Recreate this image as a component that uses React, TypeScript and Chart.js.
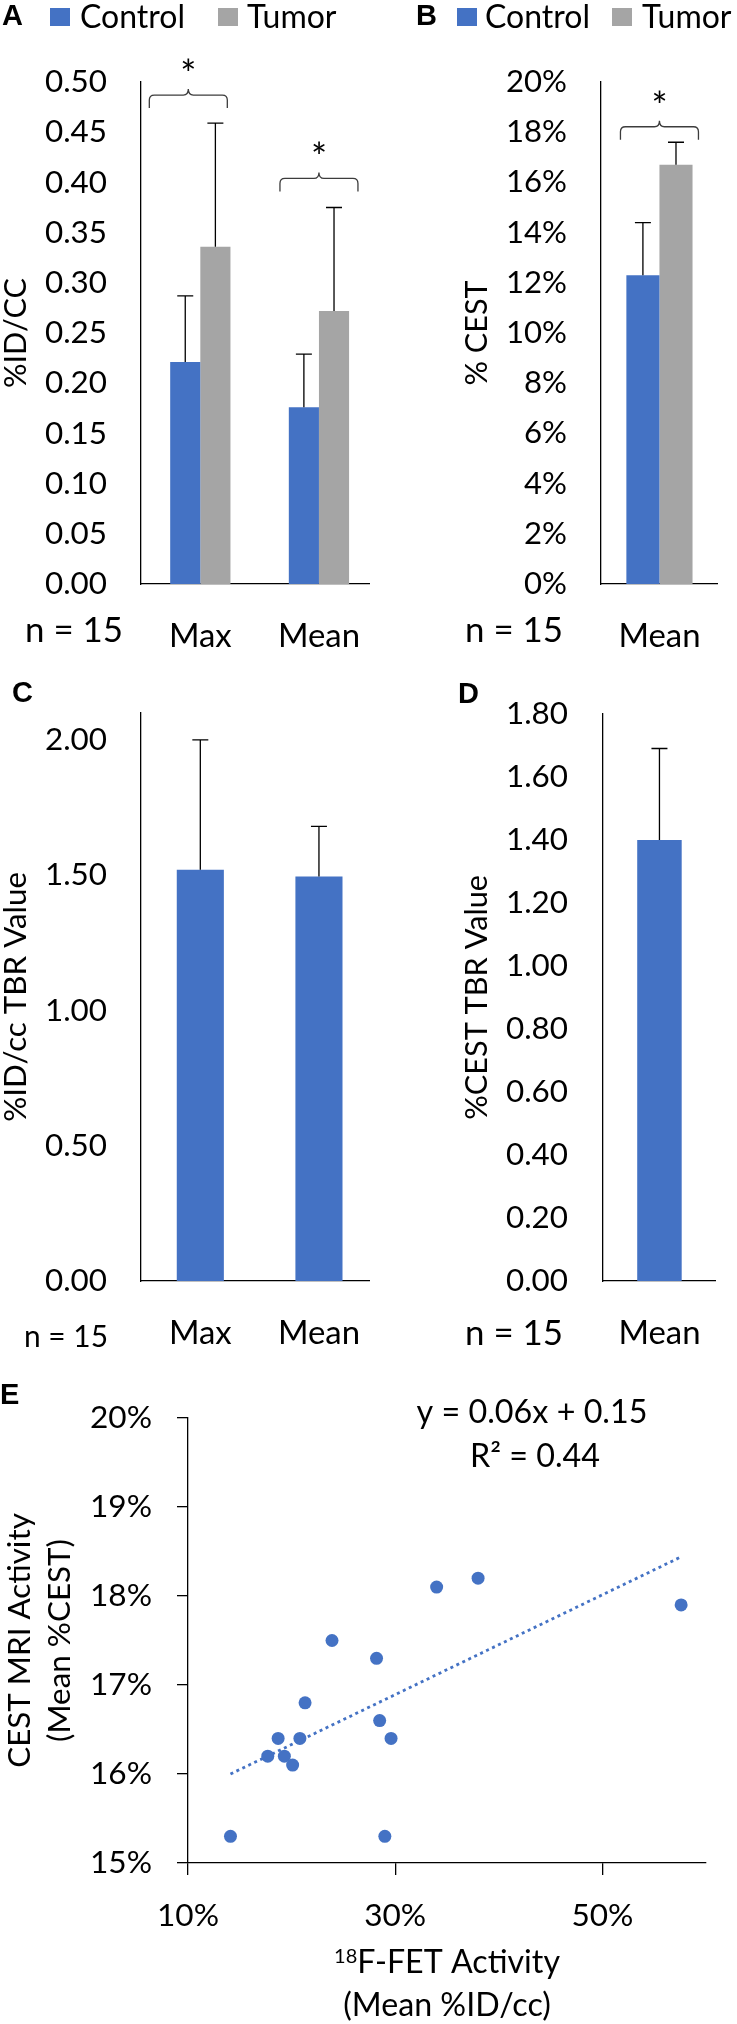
import React, { useEffect, useRef } from 'react';
import { Chart, registerables } from 'chart.js';

Chart.register(...registerables);

const FONT = 'Lato, "Open Sans", sans-serif';
const BOLD = '"Liberation Sans", Arial, sans-serif';
const BLUE = '#4472C4';
const GRAY = '#A5A5A5';
const INK = '#000000';
const BRACE = '#3c3c3c';

const seriesNames = ['Control', 'Tumor'];
const sampleLabel = 'n = 15';

// Panel A: %ID/cc
const categoriesA = ['Max', 'Mean'];
const controlA = [0.221, 0.176];
const controlErrA = [0.066, 0.053];
const tumorA = [0.336, 0.272];
const tumorErrA = [0.123, 0.103];
const yTicksA = [0, 0.05, 0.1, 0.15, 0.2, 0.25, 0.3, 0.35, 0.4, 0.45, 0.5];
const sigA = [
  { index: 0, value: 0.474 },
  { index: 1, value: 0.391 },
];

// Panel B: % CEST
const categoriesB = ['Mean'];
const controlB = [12.3];
const controlErrB = [2.1];
const tumorB = [16.7];
const tumorErrB = [0.9];
const yTicksB = [0, 2, 4, 6, 8, 10, 12, 14, 16, 18, 20];
const sigB = [{ index: 0, value: 17.7 }];

// Panel C: %ID/cc TBR
const categoriesC = ['Max', 'Mean'];
const tbrPet = [1.52, 1.495];
const tbrPetErr = [0.48, 0.185];
const yTicksC = [0, 0.5, 1, 1.5, 2];

// Panel D: %CEST TBR
const categoriesD = ['Mean'];
const tbrCest = [1.4];
const tbrCestErr = [0.29];
const yTicksD = [0, 0.2, 0.4, 0.6, 0.8, 1, 1.2, 1.4, 1.6, 1.8];

// Panel E: scatter (percent units)
const fetActivity = [23.9, 28.2, 34.0, 38.0, 57.6, 21.3, 28.5, 29.6, 18.7, 20.8, 17.7, 19.3, 20.1, 14.1, 29.0];
const cestActivity = [17.5, 17.3, 18.1, 18.2, 17.9, 16.8, 16.6, 16.4, 16.4, 16.4, 16.2, 16.2, 16.1, 15.3, 15.3];
const trendX = [14.1, 57.6];
const trendY = [16.0, 18.44];
const xTicksE = [10, 30, 50];
const yTicksE = [15, 16, 17, 18, 19, 20];
const equationLines = ['y = 0.06x + 0.15', 'R² = 0.44'];

const fmt2 = (v: number) => v.toFixed(2);
const fmtPct = (v: number) => `${Math.round(v)}%`;

// font size that makes `text` take `target` px in FONT
let measureCtx: CanvasRenderingContext2D | null = null;
function fit(text: string, target: number): number {
  if (!measureCtx) measureCtx = document.createElement('canvas').getContext('2d');
  const m = measureCtx!;
  m.font = `100px ${FONT}`;
  const w = m.measureText(text).width || 1;
  return Math.round((100 * target * 10) / w) / 10;
}

type Series = { label: string; data: number[]; err: number[]; color: string };
type BarSpec = {
  width: number;
  height: number;
  area: { left: number; top: number; right: number; bottom: number };
  labels: string[];
  series: Series[];
  yMax: number;
  yTicks: number[];
  fmt: (v: number) => string;
  catPct: number;
  tickPad: number;
  tickSize: number;
  xSize: number;
  xPad: number;
  yTitle: string;
  yTitleSize: number;
  yTitleCenter: number;
  letter: { text: string; x: number; y: number };
  nText: { x: number; y: number; size: number };
  legend?: { squares: number[]; texts: number[]; y: number; size: number };
  brackets?: { index: number; value: number }[];
  bracketDx?: number[];
};

function drawLetter(ctx: CanvasRenderingContext2D, l: { text: string; x: number; y: number }) {
  ctx.save();
  ctx.font = `bold 29px ${BOLD}`;
  ctx.fillStyle = INK;
  ctx.textAlign = 'left';
  ctx.textBaseline = 'alphabetic';
  ctx.fillText(l.text, l.x, l.y);
  ctx.restore();
}

function barDecor(spec: BarSpec) {
  return {
    id: 'decor',
    afterDatasetsDraw(chart: any) {
      const ctx: CanvasRenderingContext2D = chart.ctx;
      const ys = chart.scales.y;
      ctx.save();
      ctx.strokeStyle = INK;
      ctx.lineWidth = 1.3;
      spec.series.forEach((s, di) => {
        const meta = chart.getDatasetMeta(di);
        meta.data.forEach((bar: any, i: number) => {
          const top = ys.getPixelForValue(s.data[i] + s.err[i]);
          ctx.beginPath();
          ctx.moveTo(bar.x, bar.y);
          ctx.lineTo(bar.x, top);
          ctx.moveTo(bar.x - 8, top);
          ctx.lineTo(bar.x + 8, top);
          ctx.stroke();
        });
      });
      ctx.restore();
    },
    afterDraw(chart: any) {
      const ctx: CanvasRenderingContext2D = chart.ctx;
      const xs = chart.scales.x;
      const ys = chart.scales.y;
      ctx.save();
      (spec.brackets || []).forEach((b, k) => {
        const cx = xs.getPixelForValue(b.index) + ((spec.bracketDx && spec.bracketDx[k]) || 0);
        const yb = ys.getPixelForValue(b.value);
        const half = 39;
        const rise = 13;
        const tip = 6;
        const r = 5;
        const yh = yb - rise;
        ctx.strokeStyle = BRACE;
        ctx.lineWidth = 1.3;
        ctx.beginPath();
        ctx.moveTo(cx - half, yb);
        ctx.lineTo(cx - half, yh + r);
        ctx.quadraticCurveTo(cx - half, yh, cx - half + r, yh);
        ctx.lineTo(cx - r, yh);
        ctx.quadraticCurveTo(cx, yh, cx, yh - tip);
        ctx.quadraticCurveTo(cx, yh, cx + r, yh);
        ctx.lineTo(cx + half - r, yh);
        ctx.quadraticCurveTo(cx + half, yh, cx + half, yh + r);
        ctx.lineTo(cx + half, yb);
        ctx.stroke();
        ctx.fillStyle = INK;
        ctx.font = `38px ${FONT}`;
        ctx.textAlign = 'center';
        ctx.textBaseline = 'alphabetic';
        ctx.fillText('*', cx, yh - tip - 22 + 21);
      });
      if (spec.legend) {
        const lg = spec.legend;
        spec.series.forEach((s, i) => {
          ctx.fillStyle = s.color;
          ctx.fillRect(lg.squares[i], lg.y, 20, 18);
          ctx.fillStyle = INK;
          ctx.font = `${lg.size}px ${FONT}`;
          ctx.textAlign = 'left';
          ctx.textBaseline = 'alphabetic';
          ctx.fillText(s.label, lg.texts[i], lg.y + 20);
        });
      }
      ctx.fillStyle = INK;
      ctx.font = `${spec.nText.size}px ${FONT}`;
      ctx.textAlign = 'center';
      ctx.textBaseline = 'alphabetic';
      ctx.fillText(sampleLabel, spec.nText.x, spec.nText.y);
      ctx.restore();
      drawLetter(ctx, spec.letter);
    },
  };
}

function makeBarChart(canvas: HTMLCanvasElement, spec: BarSpec) {
  const { width, height, area } = spec;
  canvas.width = width;
  canvas.height = height;
  const border = { display: true, color: INK, width: 1.3 };
  return new Chart(canvas, {
    type: 'bar',
    data: {
      labels: spec.labels,
      datasets: spec.series.map((s) => ({
        label: s.label,
        data: s.data,
        backgroundColor: s.color,
        borderWidth: 0,
        categoryPercentage: spec.catPct,
        barPercentage: 1,
      })),
    },
    options: {
      animation: false,
      responsive: false,
      maintainAspectRatio: false,
      events: [],
      layout: { padding: { left: 0, top: area.top, right: width - area.right, bottom: 0 } },
      plugins: { legend: { display: false }, tooltip: { enabled: false } },
      scales: {
        x: {
          grid: { display: false, drawTicks: false },
          border,
          ticks: {
            font: { family: FONT, size: spec.xSize },
            color: INK,
            padding: spec.xPad,
            maxRotation: 0,
            autoSkip: false,
          },
          afterFit: (s: any) => {
            s.height = height - area.bottom;
          },
        },
        y: {
          min: 0,
          max: spec.yMax,
          grid: { display: false, drawTicks: false },
          border,
          afterBuildTicks: (s: any) => {
            s.ticks = spec.yTicks.map((v) => ({ value: v }));
          },
          ticks: {
            font: { family: FONT, size: spec.tickSize },
            color: INK,
            padding: spec.tickPad,
            callback: (v: any) => spec.fmt(Number(v)),
          },
          title: {
            display: true,
            text: spec.yTitle,
            color: INK,
            font: { family: FONT, size: spec.yTitleSize, lineHeight: 1 },
            padding: { top: spec.yTitleCenter - spec.yTitleSize / 2, bottom: 0 },
          },
          afterFit: (s: any) => {
            s.width = area.left;
          },
        },
      },
    } as any,
    plugins: [barDecor(spec) as any],
  });
}

function makeScatter(canvas: HTMLCanvasElement) {
  const width = 737;
  const height = 664;
  const area = { left: 188, top: 58, right: 706, bottom: 503 };
  canvas.width = width;
  canvas.height = height;
  const border = { display: true, color: INK, width: 1.3 };
  const tickSize = fit('20%', 62);
  const eqSize = fit(equationLines[0], 231);
  const titleSize = fit('CEST MRI Activity', 255);
  const xMain = 'F-FET Activity';
  const xSup = '18';
  const xMainSize = fit(xMain, 203);
  const xSupSize = Math.round(xMainSize * 0.62);
  const xLine2 = '(Mean %ID/cc)';
  const decor = {
    id: 'decorE',
    afterDraw(chart: any) {
      const ctx: CanvasRenderingContext2D = chart.ctx;
      ctx.save();
      ctx.fillStyle = INK;
      ctx.textBaseline = 'alphabetic';
      ctx.textAlign = 'center';
      ctx.font = `${eqSize}px ${FONT}`;
      ctx.fillText(equationLines[0], 532, 63);
      ctx.fillText(equationLines[1], 535, 107);
      const cx = (chart.chartArea.left + chart.chartArea.right) / 2;
      ctx.font = `${xSupSize}px ${FONT}`;
      const wSup = ctx.measureText(xSup).width;
      ctx.font = `${xMainSize}px ${FONT}`;
      const wMain = ctx.measureText(xMain).width;
      const start = cx - (wSup + wMain) / 2;
      ctx.textAlign = 'left';
      ctx.font = `${xSupSize}px ${FONT}`;
      ctx.fillText(xSup, start, 603);
      ctx.font = `${xMainSize}px ${FONT}`;
      ctx.fillText(xMain, start + wSup, 613);
      ctx.textAlign = 'center';
      ctx.fillText(xLine2, cx, 656);
      ctx.restore();
      drawLetter(ctx, { text: 'E', x: 0, y: 44 });
    },
  };
  return new Chart(canvas, {
    type: 'scatter',
    data: {
      datasets: [
        {
          type: 'scatter',
          label: 'patients',
          data: fetActivity.map((x, i) => ({ x, y: cestActivity[i] })),
          backgroundColor: BLUE,
          borderColor: BLUE,
          pointRadius: 6.5,
          borderWidth: 0,
          order: 1,
        },
        {
          type: 'line',
          label: 'trend',
          data: trendX.map((x, i) => ({ x, y: trendY[i] })),
          borderColor: BLUE,
          borderWidth: 2.8,
          borderDash: [3, 3.6],
          pointRadius: 0,
          fill: false,
          order: 2,
        },
      ],
    },
    options: {
      animation: false,
      responsive: false,
      maintainAspectRatio: false,
      events: [],
      layout: { padding: { left: 0, top: area.top, right: width - area.right, bottom: 0 } },
      plugins: { legend: { display: false }, tooltip: { enabled: false } },
      scales: {
        x: {
          type: 'linear',
          min: 10,
          max: 60,
          grid: { drawOnChartArea: false, drawTicks: true, tickLength: 12, color: INK, lineWidth: 1.3 },
          border,
          afterBuildTicks: (s: any) => {
            s.ticks = xTicksE.map((v) => ({ value: v }));
          },
          ticks: {
            font: { family: FONT, size: tickSize },
            color: INK,
            padding: 22,
            maxRotation: 0,
            callback: (v: any) => fmtPct(Number(v)),
          },
          afterFit: (s: any) => {
            s.height = height - area.bottom;
          },
        },
        y: {
          type: 'linear',
          min: 15,
          max: 20,
          grid: { drawOnChartArea: false, drawTicks: true, tickLength: 11, color: INK, lineWidth: 1.3 },
          border,
          afterBuildTicks: (s: any) => {
            s.ticks = yTicksE.map((v) => ({ value: v }));
          },
          ticks: {
            font: { family: FONT, size: tickSize },
            color: INK,
            padding: 25,
            callback: (v: any) => fmtPct(Number(v)),
          },
          title: {
            display: true,
            text: ['CEST MRI Activity', '(Mean %CEST)'],
            color: INK,
            font: { family: FONT, size: titleSize, lineHeight: 40 / titleSize },
            padding: { top: 20 - 20, bottom: 0 },
          },
          afterFit: (s: any) => {
            s.width = area.left;
          },
        },
      },
    } as any,
    plugins: [decor as any],
  });
}

export default function App() {
  const aRef = useRef<HTMLCanvasElement>(null);
  const bRef = useRef<HTMLCanvasElement>(null);
  const cRef = useRef<HTMLCanvasElement>(null);
  const dRef = useRef<HTMLCanvasElement>(null);
  const eRef = useRef<HTMLCanvasElement>(null);

  useEffect(() => {
    let cancelled = false;
    const charts: Chart[] = [];
    const build = () => {
      if (cancelled) return;
      const tickNum = fit('0.50', 62);
      const tickPct = fit('20%', 61);
      const xLab = fit('Mean', 82);
      const legendSize = fit('Control', 105);
      const nWide = fit(sampleLabel, 98);
      const nNarrow = fit(sampleLabel, 84);
      charts.push(
        makeBarChart(aRef.current!, {
          width: 393,
          height: 660,
          area: { left: 141, top: 82, right: 393, bottom: 584 },
          labels: categoriesA,
          series: [
            { label: seriesNames[0], data: controlA, err: controlErrA, color: BLUE },
            { label: seriesNames[1], data: tumorA, err: tumorErrA, color: GRAY },
          ],
          yMax: 0.5,
          yTicks: yTicksA,
          fmt: fmt2,
          catPct: 0.508,
          tickPad: 34,
          tickSize: tickNum,
          xSize: xLab,
          xPad: 33,
          yTitle: '%ID/CC',
          yTitleSize: fit('%ID/CC', 110),
          yTitleCenter: 16,
          letter: { text: 'A', x: 2, y: 25 },
          nText: { x: 74, y: 642, size: nWide },
          legend: { squares: [50, 218], texts: [80, 247], y: 8, size: legendSize },
          brackets: sigA,
          bracketDx: [-12, 0],
        })
      );
      charts.push(
        makeBarChart(bRef.current!, {
          width: 367,
          height: 660,
          area: { left: 231, top: 82, right: 360, bottom: 584 },
          labels: categoriesB,
          series: [
            { label: seriesNames[0], data: controlB, err: controlErrB, color: BLUE },
            { label: seriesNames[1], data: tumorB, err: tumorErrB, color: GRAY },
          ],
          yMax: 20,
          yTicks: yTicksB,
          fmt: fmtPct,
          catPct: 0.566,
          tickPad: 34,
          tickSize: tickPct,
          xSize: xLab,
          xPad: 33,
          yTitle: '% CEST',
          yTitleSize: fit('%ID/CC', 110),
          yTitleCenter: 107,
          letter: { text: 'B', x: 46, y: 25 },
          nText: { x: 144, y: 642, size: nWide },
          legend: { squares: [87, 242], texts: [115, 272], y: 8, size: legendSize },
          brackets: sigB,
          bracketDx: [0],
        })
      );
      charts.push(
        makeBarChart(cRef.current!, {
          width: 393,
          height: 700,
          area: { left: 141, top: 43, right: 393, bottom: 621 },
          labels: categoriesC,
          series: [{ label: 'TBR', data: tbrPet, err: tbrPetErr, color: BLUE }],
          yMax: 2.1,
          yTicks: yTicksC,
          fmt: fmt2,
          catPct: 0.397,
          tickPad: 34,
          tickSize: tickNum,
          xSize: xLab,
          xPad: 33,
          yTitle: '%ID/cc TBR Value',
          yTitleSize: fit('%ID/cc TBR Value', 250),
          yTitleCenter: 16,
          letter: { text: 'C', x: 12, y: 42 },
          nText: { x: 66, y: 687, size: nNarrow },
        })
      );
      charts.push(
        makeBarChart(dRef.current!, {
          width: 367,
          height: 700,
          area: { left: 233, top: 45, right: 360, bottom: 621 },
          labels: categoriesD,
          series: [{ label: 'TBR', data: tbrCest, err: tbrCestErr, color: BLUE }],
          yMax: 1.8,
          yTicks: yTicksD,
          fmt: fmt2,
          catPct: 0.394,
          tickPad: 35,
          tickSize: tickNum,
          xSize: xLab,
          xPad: 33,
          yTitle: '%CEST TBR Value',
          yTitleSize: fit('%CEST TBR Value', 245),
          yTitleCenter: 107,
          letter: { text: 'D', x: 88, y: 43 },
          nText: { x: 144, y: 685, size: nWide },
        })
      );
      charts.push(makeScatter(eRef.current!));
    };
    const fontsApi: any = (document as any).fonts;
    if (fontsApi && fontsApi.load) {
      Promise.all([fontsApi.load(`31px Lato`), fontsApi.load(`bold 28px "Liberation Sans"`)])
        .then(build)
        .catch(build);
    } else {
      build();
    }
    return () => {
      cancelled = true;
      charts.forEach((c) => c.destroy());
    };
  }, []);

  const abs = (left: number, top: number, w: number, h: number): React.CSSProperties => ({
    position: 'absolute',
    left,
    top,
    width: w,
    height: h,
    display: 'block',
  });

  return (
    <div style={{ position: 'absolute', left: 0, top: 0, width: 737, height: 2024, background: '#fff', overflow: 'hidden' }}>
      <div style={{ position: 'absolute', left: 0, top: 0, width: 370, height: 660, overflow: 'hidden' }}>
        <canvas ref={aRef} style={abs(0, 0, 393, 660)} />
      </div>
      <canvas ref={bRef} style={abs(370, 0, 367, 660)} />
      <div style={{ position: 'absolute', left: 0, top: 660, width: 370, height: 700, overflow: 'hidden' }}>
        <canvas ref={cRef} style={abs(0, 0, 393, 700)} />
      </div>
      <canvas ref={dRef} style={abs(370, 660, 367, 700)} />
      <canvas ref={eRef} style={abs(0, 1360, 737, 664)} />
    </div>
  );
}
